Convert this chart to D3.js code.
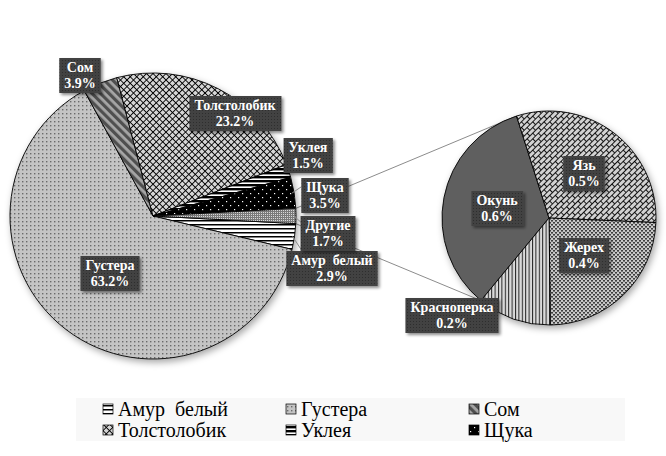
<!DOCTYPE html>
<html>
<head>
<meta charset="utf-8">
<script src="https://cdn.jsdelivr.net/npm/d3@7"></script>
<style>
  body { margin: 0; background: #fff; }
</style>
</head>
<body>
<script>
// main pie
const mainCats = ["Амур  белый", "Густера", "Сом", "Толстолобик", "Уклея", "Щука"];
const mainVals = [2.9, 63.2, 3.9, 23.2, 1.5, 3.5];
const otherName = "Другие";
// secondary pie (what "Другие" is made of)
const subCats = ["Окунь", "Язь", "Жерех", "Красноперка"];
const subVals = [0.58, 0.52, 0.41, 0.19];

const W = 666, H = 456;
const serif = "'Liberation Serif', 'Times New Roman', 'DejaVu Serif', serif";
const main = {cx: 153, cy: 216, r: 143};
const sub = {cx: 549, cy: 218, r: 107, start: 219.5};

// where the data labels sit (centres)
const labelPos = {
  "Амур  белый": [332, 268], "Густера": [110, 273], "Сом": [80, 75],
  "Толстолобик": [235, 113], "Уклея": [308, 155], "Щука": [325, 195],
  "Другие": [328, 233], "Окунь": [497, 208], "Язь": [584, 173],
  "Жерех": [584, 255], "Красноперка": [452, 315]
};
const leaders = ["Щука", "Другие", "Амур  белый"];

const fills = {
  "Амур  белый": "url(#p-amur)", "Густера": "url(#p-gust)", "Сом": "url(#p-som)",
  "Толстолобик": "url(#p-tolst)", "Уклея": "url(#p-ukl)", "Щука": "url(#p-shch)",
  "Другие": "url(#p-drug)", "Окунь": "#5f5f5f", "Язь": "url(#p-yaz)",
  "Жерех": "url(#p-zher)", "Красноперка": "url(#p-krasn)"
};

let svg = d3.select("body").append("svg")
  .attr("width", W)
  .attr("height", H);

let defs = svg.append("defs");

function pattern(id, w, h, bg, draw, transform) {
  let p = defs.append("pattern")
    .attr("id", id)
    .attr("patternUnits", "userSpaceOnUse")
    .attr("width", w)
    .attr("height", h);
  if (transform) p.attr("patternTransform", transform);
  p.append("rect").attr("width", w).attr("height", h).attr("fill", bg);
  draw(p);
}

pattern("p-amur", 4, 4, "#fff", p => p.append("rect").attr("width", 4).attr("height", 1.5).attr("fill", "#000"));
pattern("p-gust", 4, 4, "#c4c4c4", p => p.append("rect").attr("x", 1).attr("y", 1).attr("width", 1.4).attr("height", 1.4).attr("fill", "#6a6a6a"));
pattern("p-som", 6, 6, "#a6a6a6", p => p.append("rect").attr("width", 3.2).attr("height", 6).attr("fill", "#4f4f4f"), "rotate(-45)");
pattern("p-tolst", 4.6, 4.6, "#d6d6d6", p => {
  p.append("rect").attr("width", 4.6).attr("height", 0.9).attr("fill", "#000");
  p.append("rect").attr("width", 0.9).attr("height", 4.6).attr("fill", "#000");
}, "rotate(45)");
pattern("p-ukl", 4, 4, "#000", p => p.append("rect").attr("y", 2.4).attr("width", 4).attr("height", 1.6).attr("fill", "#fff"));
pattern("p-shch", 8, 8, "#000", p => {
  p.append("rect").attr("x", 1).attr("y", 1).attr("width", 1.2).attr("height", 1.2).attr("fill", "#fff");
  p.append("rect").attr("x", 5).attr("y", 5).attr("width", 1.2).attr("height", 1.2).attr("fill", "#fff");
});
pattern("p-drug", 2, 2, "#7a7a7a", p => p.append("rect").attr("width", 1).attr("height", 1).attr("fill", "#d8d8d8"));
pattern("p-yaz", 8, 8, "#d2d2d2", p => {
  p.append("rect").attr("width", 8).attr("height", 0.9).attr("fill", "#000");
  p.append("rect").attr("y", 4).attr("width", 8).attr("height", 0.9).attr("fill", "#000");
  p.append("rect").attr("x", 0).attr("width", 0.9).attr("height", 4).attr("fill", "#000");
  p.append("rect").attr("x", 4).attr("y", 4).attr("width", 0.9).attr("height", 4).attr("fill", "#000");
}, "rotate(-45)");
pattern("p-zher", 4, 4, "#c8c8c8", p => {
  p.append("rect").attr("width", 2).attr("height", 1.6).attr("fill", "#3c3c3c");
  p.append("rect").attr("x", 2).attr("y", 2).attr("width", 2).attr("height", 1.6).attr("fill", "#3c3c3c");
});
pattern("p-krasn", 3.4, 4, "#dadada", p => p.append("rect").attr("width", 1).attr("height", 4).attr("fill", "#222"));
pattern("p-label", 3, 3, "#424242", p => p.append("rect").attr("width", 1).attr("height", 1).attr("fill", "#2e2e2e"));

let shadow = defs.append("filter").attr("id", "shadow")
  .attr("x", "-20%").attr("y", "-20%").attr("width", "140%").attr("height", "140%");
shadow.append("feDropShadow")
  .attr("dx", 2).attr("dy", 3).attr("stdDeviation", 3.5)
  .attr("flood-color", "#000").attr("flood-opacity", 0.35);

let lblShadow = defs.append("filter").attr("id", "lblshadow")
  .attr("x", "-20%").attr("y", "-30%").attr("width", "150%").attr("height", "170%");
lblShadow.append("feDropShadow")
  .attr("dx", 2).attr("dy", 2).attr("stdDeviation", 1.5)
  .attr("flood-color", "#000").attr("flood-opacity", 0.45);

// main pie data, "Другие" centred at 3 o'clock
const otherVal = d3.sum(subVals);
const mainData = mainCats.map((c, i) => ({name: c, value: mainVals[i]}))
  .concat([{name: otherName, value: otherVal}]);
const total = d3.sum(mainData, d => d.value);
const otherAng = 2 * Math.PI * otherVal / total;
const mainStart = Math.PI / 2 + otherAng / 2;

let mainArcs = d3.pie().sort(null).value(d => d.value)
  .startAngle(mainStart).endAngle(mainStart + 2 * Math.PI)(mainData);

const subData = subCats.map((c, i) => ({name: c, value: subVals[i]}));
const subStart = sub.start * Math.PI / 180;
let subArcs = d3.pie().sort(null).value(d => d.value)
  .startAngle(subStart).endAngle(subStart + 2 * Math.PI)(subData);

const mainArc = d3.arc().innerRadius(0).outerRadius(main.r);
const subArc = d3.arc().innerRadius(0).outerRadius(sub.r);

function pt(c, r, a) {
  return [c.cx + r * Math.sin(a), c.cy - r * Math.cos(a)];
}

// connector lines between the two pies
let otherArc = mainArcs[mainArcs.length - 1];
let firstSub = subArcs[0];
let conn = [
  [pt(main, main.r, otherArc.startAngle), pt(sub, sub.r, firstSub.endAngle)],
  [pt(main, main.r, otherArc.endAngle), pt(sub, sub.r, firstSub.startAngle)]
];
svg.append("g").selectAll("line")
  .data(conn)
  .enter()
  .append("line")
  .attr("x1", d => d[0][0]).attr("y1", d => d[0][1])
  .attr("x2", d => d[1][0]).attr("y2", d => d[1][1])
  .attr("stroke", "#8c8c8c")
  .attr("stroke-width", 1);

svg.append("g")
  .attr("transform", `translate(${main.cx}, ${main.cy})`)
  .attr("filter", "url(#shadow)")
  .selectAll("path")
  .data(mainArcs)
  .enter()
  .append("path")
  .attr("d", mainArc)
  .attr("fill", d => fills[d.data.name])
  .attr("stroke", "#000")
  .attr("stroke-width", 0.9)
  .attr("stroke-linejoin", "round");

svg.append("g")
  .attr("transform", `translate(${sub.cx}, ${sub.cy})`)
  .attr("filter", "url(#shadow)")
  .selectAll("path")
  .data(subArcs)
  .enter()
  .append("path")
  .attr("d", subArc)
  .attr("fill", d => fills[d.data.name])
  .attr("stroke", "#000")
  .attr("stroke-width", 0.9)
  .attr("stroke-linejoin", "round");

// leader lines for the small slices
let leaderData = mainArcs.filter(d => leaders.includes(d.data.name));
svg.append("g").selectAll("line")
  .data(leaderData)
  .enter()
  .append("line")
  .attr("x1", d => pt(main, main.r - 2, (d.startAngle + d.endAngle) / 2)[0])
  .attr("y1", d => pt(main, main.r - 2, (d.startAngle + d.endAngle) / 2)[1])
  .attr("x2", d => labelPos[d.data.name][0] - 24)
  .attr("y2", d => labelPos[d.data.name][1] - 8)
  .attr("stroke", "#8c8c8c")
  .attr("stroke-width", 1);

// data labels
let allLabels = mainArcs.map(d => d.data).concat(subArcs.map(d => d.data));
let lbl = svg.append("g").selectAll("g")
  .data(allLabels)
  .enter()
  .append("g")
  .attr("transform", d => `translate(${labelPos[d.name][0]}, ${labelPos[d.name][1]})`);

let box = lbl.append("rect")
  .attr("fill", "url(#p-label)")
  .attr("filter", "url(#lblshadow)");

let txt = lbl.append("text")
  .attr("text-anchor", "middle")
  .attr("font-family", serif)
  .attr("font-size", "14px")
  .attr("font-weight", "bold")
  .attr("fill", "#fff")
  .style("white-space", "pre");
txt.append("tspan").attr("x", 0).attr("y", -3).text(d => d.name);
txt.append("tspan").attr("x", 0).attr("y", 13).text(d => d.value.toFixed(1) + "%");

box.each(function() {
  let b = this.parentNode.querySelector("text").getBBox();
  d3.select(this)
    .attr("x", b.x - 5)
    .attr("y", -17)
    .attr("width", b.width + 10)
    .attr("height", 35);
});

// legend (main series only)
const legCols = [103, 286, 469];
const legRows = [409, 430];
svg.append("rect")
  .attr("x", 76).attr("y", 398)
  .attr("width", 549).attr("height", 43)
  .attr("fill", "#f8f8f8");

let leg = svg.append("g").selectAll("g")
  .data(mainCats)
  .enter()
  .append("g")
  .attr("transform", (d, i) => `translate(${legCols[i % 3]}, ${legRows[Math.floor(i / 3)]})`);

leg.append("rect")
  .attr("x", 0).attr("y", -5)
  .attr("width", 10).attr("height", 10)
  .attr("fill", d => fills[d])
  .attr("stroke", "#000")
  .attr("stroke-width", 0.7);

leg.append("text")
  .attr("x", 15)
  .attr("y", 7)
  .attr("font-family", serif)
  .attr("font-size", "20px")
  .attr("fill", "#000")
  .style("white-space", "pre")
  .text(d => d);
</script>
</body>
</html>
